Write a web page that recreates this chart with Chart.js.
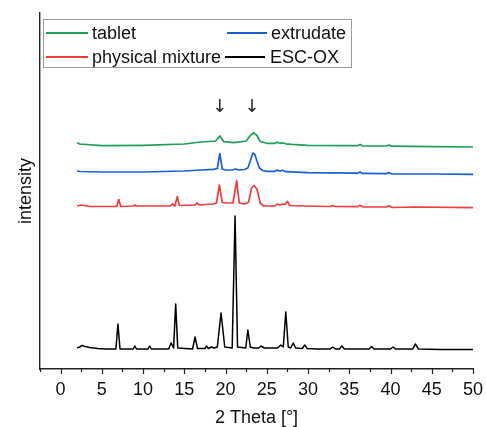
<!DOCTYPE html>
<html lang="en">
<head>
    <meta charset="UTF-8">
    <title>XRD</title>
    <script src="https://cdn.jsdelivr.net/npm/chart.js"></script>
    <style>
        html, body { margin: 0; padding: 0; background: #fff; }
        #wrap { width: 486px; height: 427px; }
    </style>
</head>
<body>
<div id="wrap"><canvas id="myChart" width="486" height="427"></canvas></div>
<script>
    // 2 Theta values and stacked (offset) intensities
    const escX = [2.0, 2.3, 2.6, 3.0, 3.5, 4.5, 5.5, 6.7, 6.95, 7.2, 8.8, 9.0, 9.2, 10.6, 10.8, 11.0,
        13.1, 13.4, 13.7, 13.95, 14.2, 16.0, 16.3, 16.6, 17.5, 17.7, 17.9, 18.3, 18.6, 19.0, 19.45, 19.9,
        20.8, 21.15, 21.45, 22.45, 22.7, 23.0, 23.4, 24.0, 24.3, 24.7, 26.3, 26.7, 27.0, 27.3, 27.6, 27.9,
        28.2, 28.5, 29.3, 29.6, 29.9, 31.0, 32.7, 33.0, 33.3, 33.8, 34.1, 34.4, 37.4, 37.7, 38.0, 40.0,
        40.3, 40.6, 42.7, 43.0, 43.4, 46.0, 50.0];
    const escY = [21, 22, 23.5, 22.5, 21.5, 20.5, 20, 20, 45, 20, 20, 23, 20, 20, 23, 20,
        20, 26, 21, 65, 21, 20, 32, 20.5, 20.5, 23, 20.5, 22, 21, 22, 56, 22,
        21, 153, 22, 21, 39, 22, 21, 21, 23, 21, 21, 24, 22, 57, 22, 21,
        26, 21, 20.5, 24, 20.5, 20, 20, 22, 20, 20, 23, 20, 20, 22.5, 20, 20,
        22, 20, 20, 25, 20, 19.5, 19.5];

    const pmX = [2.0, 2.5, 3.5, 6.8, 7.05, 7.3, 8.8, 9.0, 9.2, 10.8, 13.3, 13.55, 13.85, 14.15, 14.4,
        16.3, 16.5, 16.8, 18.5, 18.9, 19.25, 19.6, 20.3, 20.9, 21.35, 21.65, 22.3, 22.8, 23.15, 23.45, 23.8,
        24.2, 24.6, 26.0, 26.25, 26.6, 26.9, 27.2, 27.5, 27.8, 29.5, 32.7, 33.0, 33.3, 36.0, 36.3, 36.7,
        39.5, 39.8, 40.2, 43.0, 50.0];
    const pmY = [163, 164, 162.5, 162.5, 169.5, 162.5, 163, 164, 163, 163, 163, 165, 163, 172.5, 163.5,
        164, 166, 164, 165, 166, 184, 166.5, 166, 166, 188.5, 166, 165, 167, 181, 183.5, 180,
        166, 163, 163, 165, 164, 165, 164.5, 167.5, 163.5, 163, 162.5, 163.5, 162.5, 162.3, 163.8, 162,
        162, 163.2, 161.5, 162, 161.3];

    const exX = [2.0, 2.4, 5.0, 10.0, 15.0, 17.0, 18.5, 19.0, 19.3, 19.6, 20.0, 20.8, 21.2, 21.6, 22.3,
        22.7, 23.0, 23.3, 23.55, 23.8, 24.1, 24.5, 25.0, 26.0, 26.25, 26.6, 26.9, 27.3, 30.0, 36.0, 36.3, 36.6,
        39.5, 39.8, 40.1, 45.0, 50.0];
    const exY = [198, 197.5, 197, 197, 198, 199, 199.7, 200.5, 215.5, 200, 199, 199, 200, 199, 199.5,
        201, 208, 216, 214.5, 208, 201, 198.5, 197.7, 197.7, 199, 197.8, 198.7, 197.3, 196.3, 195.8, 197, 195.6,
        195.4, 196.5, 195.2, 195, 194.7];

    const tbX = [2.0, 2.3, 5.0, 10.0, 15.0, 17.0, 18.8, 19.3, 19.8, 21.0, 22.5, 23.0, 23.4, 23.8, 24.2,
        25.0, 26.0, 26.25, 26.6, 26.9, 27.3, 28.0, 30.0, 36.0, 36.3, 36.6, 39.5, 39.8, 40.1, 45.0, 50.0];
    const tbY = [226.3, 225, 223.3, 223.7, 225, 227, 228, 233, 227.3, 226.3, 228, 233.5, 236.3, 233.5, 227.5,
        225.7, 225.7, 226.8, 225.7, 226.2, 225.2, 224.6, 223.7, 223.3, 224.6, 223.2, 223, 224, 222.8, 222.4, 222];

    const labels = ['tablet', 'extrudate', 'physical mixture', 'ESC-OX'];
    const colors = ['#1f9e5a', '#1a5fd8', '#f23b3b', '#000000'];
    const arrowX = [19.3, 23.2];
    const arrowY = 262;
    const xTicks = { min: -2.5, max: 50, step: 2.5 };

    function pts(xs, ys) {
        return xs.map((x, i) => ({ x: x, y: ys[i] }));
    }

    const seriesX = [tbX, exX, pmX, escX];
    const seriesY = [tbY, exY, pmY, escY];
    const datasets = labels.map((l, i) => ({
        label: l,
        data: pts(seriesX[i], seriesY[i]),
        borderColor: colors[i],
        borderWidth: i == 3 ? 1.5 : 1.7,
        borderJoinStyle: 'round',
        pointRadius: 0,
        tension: 0,
        fill: false
    }));

    // legend box with two columns, arrows and the x tick marks
    const extras = {
        id: 'extras',
        afterDraw(chart) {
            const ctx = chart.ctx;
            const xs = chart.scales.x;
            const ys = chart.scales.y;
            ctx.save();
            // tick marks below the x axis
            ctx.strokeStyle = '#222';
            ctx.lineWidth = 1.2;
            const yb = chart.chartArea.bottom;
            for (let v = xTicks.min; v <= xTicks.max + 0.001; v += xTicks.step) {
                const px = Math.round(xs.getPixelForValue(v)) + 0.5;
                const len = (Math.abs(v % 5) < 0.001) ? 5 : 3;
                ctx.beginPath();
                ctx.moveTo(px, yb);
                ctx.lineTo(px, yb + len);
                ctx.stroke();
            }
            // arrows
            ctx.fillStyle = '#222';
            ctx.font = '18px "DejaVu Sans"';
            ctx.textAlign = 'center';
            ctx.textBaseline = 'middle';
            arrowX.forEach(a => ctx.fillText('↓', xs.getPixelForValue(a), ys.getPixelForValue(arrowY)));
            // legend
            ctx.strokeStyle = '#9a9a9a';
            ctx.lineWidth = 1;
            ctx.strokeRect(43.5, 19.5, 308, 48);
            const spots = [[46, 88, 92, 33], [227, 267, 271, 33], [46, 88, 92, 57], [225, 265, 270, 57]];
            ctx.font = '18px "Liberation Sans", Arial, sans-serif';
            ctx.textAlign = 'left';
            labels.forEach((l, i) => {
                const s = spots[i];
                ctx.strokeStyle = colors[i];
                ctx.lineWidth = 2;
                ctx.beginPath();
                ctx.moveTo(s[0], s[3]);
                ctx.lineTo(s[1], s[3]);
                ctx.stroke();
                ctx.fillStyle = '#111';
                ctx.fillText(l, s[2], s[3] + 1);
            });
            ctx.restore();
        }
    };

    const ctx = document.getElementById('myChart').getContext('2d');
    const myChart = new Chart(ctx, {
        type: 'line',
        data: { datasets: datasets },
        options: {
            responsive: false,
            animation: false,
            layout: { padding: { top: 13, right: 13, left: 0, bottom: 0 } },
            plugins: {
                legend: { display: false },
                tooltip: { enabled: false }
            },
            scales: {
                x: {
                    type: 'linear',
                    min: xTicks.min,
                    max: xTicks.max,
                    afterFit: (scale) => { scale.height = 58; },
                    grid: { display: false },
                    border: { display: true, color: '#222', width: 1.4 },
                    ticks: {
                        stepSize: xTicks.step,
                        autoSkip: false,
                        maxRotation: 0,
                        padding: 2,
                        color: '#111',
                        font: { family: '"Liberation Sans", Arial, sans-serif', size: 18 },
                        callback: (v) => (Math.abs(v % 5) < 0.001 ? v : '')
                    },
                    title: {
                        display: true,
                        text: '2 Theta [°]',
                        color: '#111',
                        font: { family: '"Liberation Sans", Arial, sans-serif', size: 18, lineHeight: 1 },
                        padding: { top: 0, bottom: 0 }
                    }
                },
                y: {
                    min: 0,
                    max: 356,
                    afterFit: (scale) => { scale.width = 40; },
                    grid: { display: false },
                    border: { display: true, color: '#222', width: 1.4 },
                    ticks: { display: false },
                    title: {
                        display: true,
                        text: 'intensity',
                        color: '#111',
                        font: { family: '"Liberation Sans", Arial, sans-serif', size: 18 },
                        padding: { top: 15, bottom: 0 }
                    }
                }
            }
        },
        plugins: [extras]
    });
</script>
</body>
</html>
